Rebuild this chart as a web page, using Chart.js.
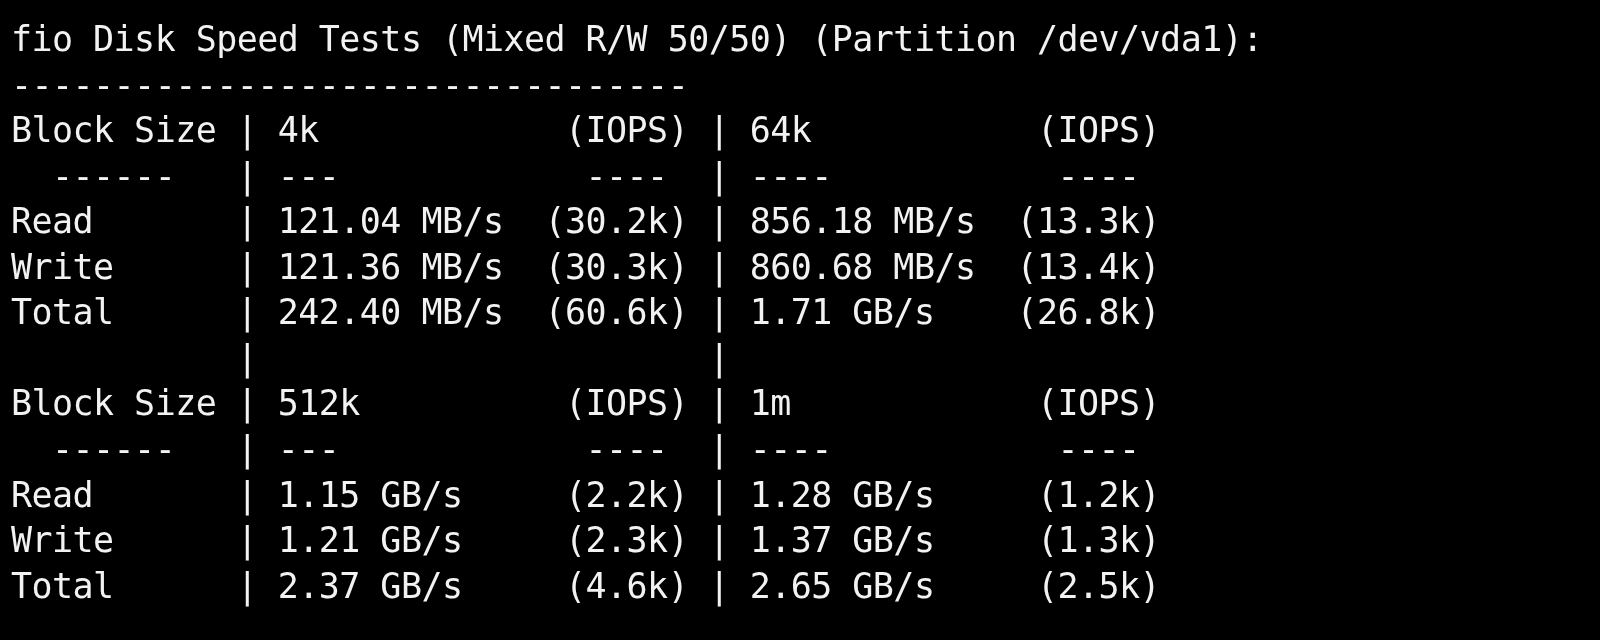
<!DOCTYPE html>
<html><head><meta charset="utf-8">
<script src="https://cdn.jsdelivr.net/npm/chart.js@4"></script>
<style>html,body{margin:0;padding:0;background:#000;overflow:hidden}canvas{display:block}</style>
</head><body>
<canvas id="c" width="1600" height="640"></canvas>
<script>
const title = "fio Disk Speed Tests (Mixed R/W 50/50) (Partition /dev/vda1):";
const blockSizes = ["4k", "64k", "512k", "1m"];
const rowNames = ["Read", "Write", "Total"];
const speeds = [
  ["121.04 MB/s", "121.36 MB/s", "242.40 MB/s"],
  ["856.18 MB/s", "860.68 MB/s", "1.71 GB/s"],
  ["1.15 GB/s", "1.21 GB/s", "2.37 GB/s"],
  ["1.28 GB/s", "1.37 GB/s", "2.65 GB/s"]
];
const iops = [
  ["(30.2k)", "(30.3k)", "(60.6k)"],
  ["(13.3k)", "(13.4k)", "(26.8k)"],
  ["(2.2k)", "(2.3k)", "(4.6k)"],
  ["(1.2k)", "(1.3k)", "(2.5k)"]
];

function pad(s, n){ while(s.length<n) s+=" "; return s; }
function lpad(s, n){ while(s.length<n) s=" "+s; return s; }
function buildLines(){
  const L=[title, "-".repeat(33)];
  for(let g=0; g<2; g++){
    const a=g*2, b=g*2+1;
    L.push(pad("Block Size",10)+" | "+pad(blockSizes[a],11)+" "+lpad("(IOPS)",8)+" | "+pad(blockSizes[b],11)+" "+lpad("(IOPS)",8));
    L.push("  ------   | ---            ----  | ----           ---- ");
    for(let r=0;r<3;r++){
      L.push(pad(rowNames[r],10)+" | "+pad(speeds[a][r],11)+" "+lpad(iops[a][r],8)+" | "+pad(speeds[b][r],11)+" "+lpad(iops[b][r],8));
    }
    if(g===0) L.push(pad("",10)+" | "+pad("",11)+" "+pad("",8)+" | ");
  }
  return L;
}
const terminalText = {
  id:"terminalText",
  beforeDraw(chart){
    const ctx=chart.ctx;
    ctx.save();
    ctx.fillStyle="#000"; ctx.fillRect(0,0,chart.width,chart.height);
    ctx.fillStyle="#f2f2f2";
    ctx.font="35px 'DejaVu Sans Mono', 'Liberation Mono', monospace";
    ctx.textBaseline="middle";
    const lines=buildLines();
    const cw=20.52, x0=11;
    lines.forEach((ln,i)=>{
      const y=42+i*45.55;
      for(let k=0;k<ln.length;k++){
        if(ln[k]!==" ") ctx.fillText(ln[k], x0+k*cw, y);
      }
    });
    ctx.restore();
  }
};
new Chart(document.getElementById("c"),{
  type:"bar",
  data:{labels:blockSizes, datasets:[]},
  options:{responsive:false, animation:false, devicePixelRatio:1,
    plugins:{legend:{display:false}, tooltip:{enabled:false}, title:{display:false}},
    scales:{x:{display:false}, y:{display:false}}},
  plugins:[terminalText]
});
</script>
</body></html>
